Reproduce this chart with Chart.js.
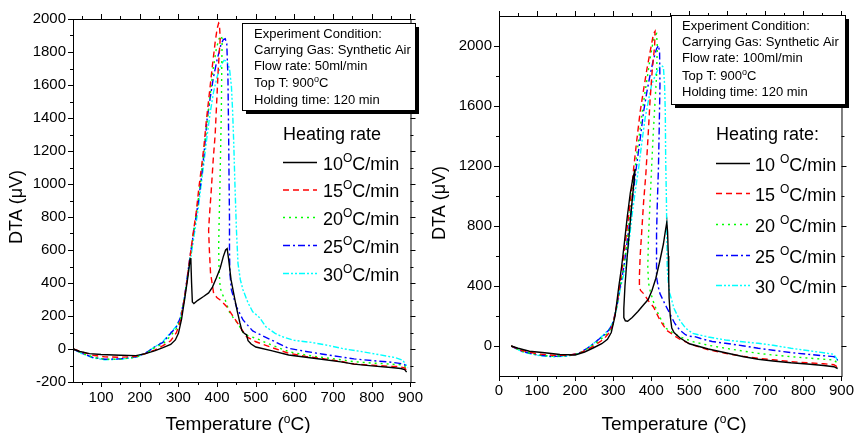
<!DOCTYPE html>
<html>
<head>
<meta charset="utf-8">
<script src="https://cdn.jsdelivr.net/npm/chart.js@4.4.0/dist/chart.umd.min.js"></script>
<style>
    html, body { margin: 0; padding: 0; background: #fff; }
    #wrap { position: relative; width: 860px; height: 433px; overflow: hidden; }
    .panel { position: absolute; top: 0; width: 430px; height: 433px; }
</style>
</head>
<body>
<div id="wrap">
    <div class="panel" style="left:0"><canvas id="dtaLeft" width="430" height="433"></canvas></div>
    <div class="panel" style="left:430px"><canvas id="dtaRight" width="430" height="433"></canvas></div>
</div>
<script>
// ===============================
//  DATA  (temperature in °C, DTA in µV)
// ===============================
const RATES = ["10", "15", "20", "25", "30"];

const LEFT_X_TICKS = [100, 200, 300, 400, 500, 600, 700, 800, 900];
const LEFT_Y_TICKS = [-200, 0, 200, 400, 600, 800, 1000, 1200, 1400, 1600, 1800, 2000];
const RIGHT_X_TICKS = [0, 100, 200, 300, 400, 500, 600, 700, 800, 900];
const RIGHT_Y_TICKS = [0, 400, 800, 1200, 1600, 2000];

// flow rate 50 ml/min
const left10 = [[28,0],[45,-15],[70,-28],[100,-33],[150,-38],[190,-40],[215,-28],[240,-10],[260,8],[280,28],[292,55],[300,95],[308,180],[316,300],[324,430],[330,540],[332,552],[334,400],[336,285],[340,275],[350,295],[365,318],[378,340],[388,375],[398,430],[408,490],[416,560],[422,600],[426,608],[430,540],[436,420],[446,299],[452,230],[459,158],[464,112],[470,95],[476,86],[480,50],[488,30],[500,12],[540,-10],[585,-36],[630,-50],[670,-62],[720,-78],[754,-92],[800,-102],[850,-112],[875,-118],[885,-125],[890,-140]];
const left15 = [[28,0],[50,-18],[80,-38],[110,-48],[150,-50],[190,-45],[215,-28],[240,-5],[260,20],[280,50],[295,100],[305,170],[315,300],[323,430],[330,560],[338,700],[346,830],[353,980],[360,1110],[366,1230],[372,1380],[380,1550],[388,1720],[395,1860],[400,1940],[404,1976],[406,1970],[408,1880],[403,1700],[399,1500],[395,1300],[390,1150],[385,966],[380,800],[378,720],[380,600],[383,460],[391,338],[400,310],[408,297],[425,256],[442,196],[459,135],[476,75],[500,44],[540,10],[585,-26],[630,-45],[670,-57],[720,-75],[754,-91],[800,-98],[850,-105],[872,-107],[885,-115],[890,-130]];
const left20 = [[28,0],[50,-25],[80,-50],[110,-62],[150,-62],[190,-50],[215,-28],[240,10],[260,30],[280,80],[295,125],[305,180],[315,300],[323,430],[330,540],[340,720],[350,880],[358,1030],[366,1200],[374,1370],[382,1540],[390,1700],[398,1820],[405,1880],[410,1899],[413,1880],[412,1700],[411,1450],[409,1200],[407,950],[405,750],[404,620],[405,480],[408,370],[414,330],[421,297],[433,216],[445,180],[455,150],[467,100],[480,80],[500,65],[540,25],[585,-16],[630,-37],[670,-50],[720,-65],[754,-77],[800,-85],[850,-92],[872,-95],[885,-105],[890,-120]];
const left25 = [[28,0],[50,-25],[80,-52],[110,-62],[150,-60],[190,-48],[215,-25],[240,15],[260,40],[280,95],[295,135],[305,190],[315,300],[323,440],[330,560],[340,720],[350,870],[358,1010],[366,1180],[374,1390],[382,1520],[390,1640],[400,1754],[410,1845],[416,1875],[421,1880],[425,1850],[428,1650],[429,1450],[430,1250],[431,1004],[432,800],[432,600],[433,461],[437,358],[450,256],[467,176],[492,110],[500,100],[540,55],[585,4],[630,-15],[670,-30],[720,-48],[754,-60],[800,-70],[850,-80],[872,-87],[885,-95],[890,-118]];
const left30 = [[28,0],[50,-28],[80,-55],[110,-65],[150,-62],[190,-50],[215,-25],[240,15],[260,45],[280,100],[295,140],[305,190],[315,300],[323,430],[330,520],[340,680],[350,830],[358,980],[366,1130],[374,1290],[382,1430],[391,1560],[400,1650],[410,1720],[418,1750],[425,1745],[432,1700],[437,1592],[440,1448],[443,1250],[446,1004],[450,721],[454,519],[460,420],[467,358],[480,280],[492,226],[510,190],[526,135],[550,95],[568,75],[600,52],[644,40],[686,22],[730,0],[770,-14],[820,-35],[860,-52],[880,-68],[888,-95],[893,-115]];

// flow rate 100 ml/min
const right10 = [[32,0],[50,-15],[80,-35],[120,-45],[160,-57],[200,-60],[225,-40],[250,-10],[270,15],[285,45],[295,90],[305,200],[315,400],[322,525],[330,700],[337,860],[345,1020],[352,1120],[358,1180],[351,1000],[344,800],[337,600],[331,400],[328,250],[328,190],[332,168],[338,165],[350,190],[365,230],[380,275],[392,310],[402,370],[412,450],[422,560],[432,680],[438,780],[441,825],[443,760],[445,600],[446,450],[447,320],[450,200],[454,120],[460,90],[475,55],[500,15],[550,-20],[595,-45],[640,-70],[681,-88],[720,-100],[767,-112],[810,-120],[853,-130],[880,-138],[890,-150]];
const right15 = [[32,0],[60,-30],[100,-52],[140,-62],[180,-62],[210,-50],[235,-20],[255,10],[275,45],[290,90],[300,150],[310,280],[318,420],[324,525],[337,790],[346,980],[354,1188],[362,1370],[371,1563],[380,1710],[389,1850],[397,1960],[406,2082],[410,2097],[409,2000],[403,1850],[397,1640],[392,1408],[386,1150],[380,960],[375,760],[371,600],[369,470],[369,393],[372,370],[380,349],[393,300],[406,260],[423,172],[440,106],[460,70],[475,45],[509,7],[550,-25],[595,-49],[640,-68],[681,-82],[720,-92],[767,-104],[810,-112],[853,-118],[880,-125],[890,-140]];
const right20 = [[32,0],[60,-35],[100,-58],[140,-68],[180,-65],[210,-50],[235,-15],[255,20],[275,60],[290,100],[300,150],[310,270],[320,420],[328,525],[337,700],[346,923],[354,1110],[363,1298],[372,1470],[380,1629],[389,1780],[397,1916],[405,2030],[410,2070],[414,2082],[416,2000],[414,1800],[410,1629],[405,1400],[401,1188],[397,960],[393,746],[391,525],[393,420],[397,371],[405,300],[414,238],[427,170],[440,117],[458,85],[475,62],[509,29],[550,5],[595,-15],[640,-33],[681,-49],[720,-60],[767,-71],[810,-80],[853,-88],[880,-93],[890,-115]];
const right25 = [[32,0],[60,-35],[100,-60],[140,-70],[180,-65],[210,-48],[235,-10],[255,30],[275,70],[290,110],[300,160],[310,270],[320,420],[328,525],[337,700],[346,879],[354,1050],[363,1232],[372,1400],[380,1563],[389,1700],[397,1806],[405,1900],[414,1982],[419,2004],[422,1960],[423,1740],[421,1450],[419,1188],[416,950],[414,746],[414,550],[414,459],[418,400],[423,349],[436,280],[449,216],[462,150],[475,106],[490,75],[500,65],[515,62],[530,50],[560,30],[595,18],[640,2],[681,-15],[720,-28],[767,-44],[810,-55],[853,-65],[880,-71],[890,-95]];
const right30 = [[32,0],[60,-38],[100,-62],[140,-72],[180,-68],[210,-50],[235,-10],[255,30],[275,75],[290,115],[300,160],[310,260],[320,400],[333,525],[342,700],[350,879],[358,1030],[367,1188],[375,1350],[384,1519],[393,1640],[401,1740],[410,1800],[419,1850],[427,1870],[432,1860],[435,1750],[437,1563],[438,1250],[440,967],[441,750],[442,525],[445,420],[449,349],[460,250],[475,172],[490,120],[509,84],[550,60],[595,40],[640,28],[681,18],[720,5],[767,-15],[810,-30],[853,-45],[879,-55],[886,-80],[892,-105]];

const LEFT_NOTE = ["Experiment Condition:", "Carrying Gas: Synthetic Air", "Flow rate: 50ml/min", "Top T: 900^oC", "Holding time: 120 min"];
const RIGHT_NOTE = ["Experiment Condition:", "Carrying Gas: Synthetic Air", "Flow rate: 100ml/min", "Top T: 900^oC", "Holding time: 120 min"];

// ===============================
//  STYLES
// ===============================
const FONT = "'Liberation Sans', Arial, Helvetica, sans-serif";
const SERIES_STYLE = [
    { color: "#000000", dash: [] },
    { color: "#FF0000", dash: [6, 4] },
    { color: "#00FF00", dash: [2, 4] },
    { color: "#0000FF", dash: [7, 3, 2, 3] },
    { color: "#00FFFF", dash: [6, 2, 2, 2, 2, 2] }
];

// text with "^x" superscript pieces
function drawRich(ctx, text, x, y, size, supSize, supRise) {
    const parts = text.split(/(\^.)/);
    ctx.textBaseline = "alphabetic";
    ctx.textAlign = "left";
    parts.forEach(p => {
        if (!p) return;
        if (p[0] === "^") {
            ctx.font = `${supSize}px ${FONT}`;
            ctx.fillText(p[1], x, y - supRise);
            x += ctx.measureText(p[1]).width;
        } else {
            ctx.font = `${size}px ${FONT}`;
            ctx.fillText(p, x, y);
            x += ctx.measureText(p).width;
        }
    });
    return x;
}

function richWidth(ctx, text, size, supSize) {
    let w = 0;
    text.split(/(\^.)/).forEach(p => {
        if (!p) return;
        if (p[0] === "^") { ctx.font = `${supSize}px ${FONT}`; w += ctx.measureText(p[1]).width; }
        else { ctx.font = `${size}px ${FONT}`; w += ctx.measureText(p).width; }
    });
    return w;
}

// ===============================
//  FRAME / NOTE / LEGEND PLUGIN
// ===============================
function makeDecor(cfg) {
    return {
        id: "dtaDecor",
        afterDatasetsDraw(chart) {
            const ctx = chart.ctx;
            const a = chart.chartArea;
            const xs = chart.scales.x, ys = chart.scales.y;
            ctx.save();
            ctx.strokeStyle = "#000";
            ctx.fillStyle = "#000";
            ctx.lineWidth = 1;
            ctx.setLineDash([]);

            // frame
            ctx.strokeRect(a.left + 0.5, a.top + 0.5, a.right - a.left, a.bottom - a.top);

            // ticks outward on all four sides
            const tick = (v, len, isX) => {
                ctx.beginPath();
                if (isX) {
                    const p = Math.round(xs.getPixelForValue(v)) + 0.5;
                    ctx.moveTo(p, a.bottom); ctx.lineTo(p, a.bottom + len);
                    ctx.moveTo(p, a.top); ctx.lineTo(p, a.top - len);
                } else {
                    const p = Math.round(ys.getPixelForValue(v)) + 0.5;
                    ctx.moveTo(a.left, p); ctx.lineTo(a.left - len, p);
                    ctx.moveTo(a.right, p); ctx.lineTo(a.right + len, p);
                }
                ctx.stroke();
            };
            cfg.xMajor.forEach(v => tick(v, 5, true));
            cfg.xMinor.forEach(v => tick(v, 3, true));
            cfg.yMajor.forEach(v => tick(v, 5, false));
            cfg.yMinor.forEach(v => tick(v, 3, false));

            // condition box with shadow
            const b = cfg.box;
            ctx.fillStyle = "#000";
            ctx.fillRect(b.x + 4, b.y + 4, b.w, b.h);
            ctx.fillStyle = "#fff";
            ctx.fillRect(b.x, b.y, b.w, b.h);
            ctx.strokeRect(b.x + 0.5, b.y + 0.5, b.w, b.h);
            ctx.fillStyle = "#000";
            cfg.note.forEach((line, i) => drawRich(ctx, line, b.tx, b.base[i], 13, 9, 5));

            // legend
            const L = cfg.legend;
            ctx.font = `18px ${FONT}`;
            ctx.fillText(L.title, L.x, L.titleBase);
            chart.data.datasets.forEach((ds, i) => {
                const y = L.ys[i];
                ctx.strokeStyle = ds.borderColor;
                ctx.lineWidth = 1.4;
                ctx.setLineDash(ds.borderDash);
                ctx.beginPath();
                ctx.moveTo(L.x, y + 0.5);
                ctx.lineTo(L.x + 34, y + 0.5);
                ctx.stroke();
                ctx.setLineDash([]);
                ctx.fillStyle = "#000";
                drawRich(ctx, RATES[i] + L.sep + "^OC/min", L.tx, y + 7.5, 18, 12, 8);
            });

            // axis titles
            ctx.fillStyle = "#000";
            const xt = "Temperature (^oC)";
            const w = richWidth(ctx, xt, 19, 12);
            drawRich(ctx, xt, cfg.xTitle.cx - w / 2, cfg.xTitle.base, 19, 12, 7);

            ctx.save();
            ctx.translate(cfg.yTitle.cx, cfg.yTitle.cy);
            ctx.rotate(-Math.PI / 2);
            ctx.font = `18px ${FONT}`;
            ctx.textAlign = "center";
            ctx.textBaseline = "middle";
            ctx.fillText("DTA (\u03BCV)", 0, 0);
            ctx.restore();

            ctx.restore();
        }
    };
}

// ===============================
//  BUILD CHART
// ===============================
function buildChart(id, series, cfg) {
    const datasets = series.map((pts, i) => ({
        label: RATES[i] + " °C/min",
        data: pts.map(p => ({ x: p[0], y: p[1] })),
        borderColor: SERIES_STYLE[i].color,
        borderDash: SERIES_STYLE[i].dash,
        borderWidth: 1.4,
        pointRadius: 0,
        showLine: true,
        tension: 0,
        fill: false
    }));

    const tickFont = { family: FONT, size: 15 };

    new Chart(document.getElementById(id), {
        type: "scatter",
        data: { datasets },
        options: {
            responsive: false,
            animation: false,
            events: [],
            layout: { padding: { top: cfg.padTop, right: cfg.padRight, left: 0, bottom: 0 } },
            plugins: { legend: { display: false }, tooltip: { enabled: false } },
            scales: {
                x: {
                    type: "linear",
                    min: cfg.xMin, max: cfg.xMax,
                    grid: { display: false, drawTicks: false },
                    border: { display: false },
                    ticks: { color: "#000", font: tickFont, padding: cfg.xPad, autoSkip: false, maxRotation: 0, callback: v => String(v) },
                    afterBuildTicks: s => { s.ticks = cfg.xMajor.map(v => ({ value: v })); },
                    afterFit: s => { s.height = cfg.xHeight; }
                },
                y: {
                    type: "linear",
                    min: cfg.yMin, max: cfg.yMax,
                    grid: { display: false, drawTicks: false },
                    border: { display: false },
                    ticks: { color: "#000", font: tickFont, padding: 7, autoSkip: false, callback: v => String(v) },
                    afterBuildTicks: s => { s.ticks = cfg.yLabels.map(v => ({ value: v })); },
                    afterFit: s => { s.width = cfg.yWidth; }
                }
            }
        },
        plugins: [makeDecor(cfg)]
    });
}

const range = (a, b, s) => { const r = []; for (let v = a; v <= b; v += s) r.push(v); return r; };

buildChart("dtaLeft", [left10, left15, left20, left25, left30], {
    xMin: 27.4, xMax: 900, yMin: -200, yMax: 2000,
    padTop: 19, padRight: 12, xHeight: 51, yWidth: 73, xPad: 7,
    xMajor: LEFT_X_TICKS, xMinor: range(50, 850, 100),
    yLabels: LEFT_Y_TICKS, yMajor: LEFT_Y_TICKS, yMinor: range(-100, 1900, 200),
    box: { x: 242, y: 23, w: 173, h: 87, tx: 254, base: [38, 53.7, 69.7, 87, 103.5] },
    note: LEFT_NOTE,
    legend: { title: "Heating rate", x: 283, titleBase: 139.5, tx: 323, sep: "", ys: [162, 189.5, 217, 245, 273] },
    xTitle: { cx: 238, base: 430 },
    yTitle: { cx: 17, cy: 207 }
});

buildChart("dtaRight", [right10, right15, right20, right25, right30], {
    xMin: 0, xMax: 900, yMin: -200, yMax: 2200,
    padTop: 14, padRight: 12, xHeight: 57, yWidth: 69, xPad: 6,
    xMajor: RIGHT_X_TICKS, xMinor: range(50, 850, 100),
    yLabels: RIGHT_Y_TICKS, yMajor: RIGHT_Y_TICKS, yMinor: range(200, 1800, 400),
    box: { x: 241, y: 15, w: 174, h: 89, tx: 252, base: [30.4, 46.4, 62.4, 79.5, 96.4] },
    note: RIGHT_NOTE,
    legend: { title: "Heating rate:", x: 286, titleBase: 139.5, tx: 325, sep: " ", ys: [163, 193, 224, 255, 285] },
    xTitle: { cx: 244, base: 430 },
    yTitle: { cx: 10, cy: 203 }
});
</script>
</body>
</html>
